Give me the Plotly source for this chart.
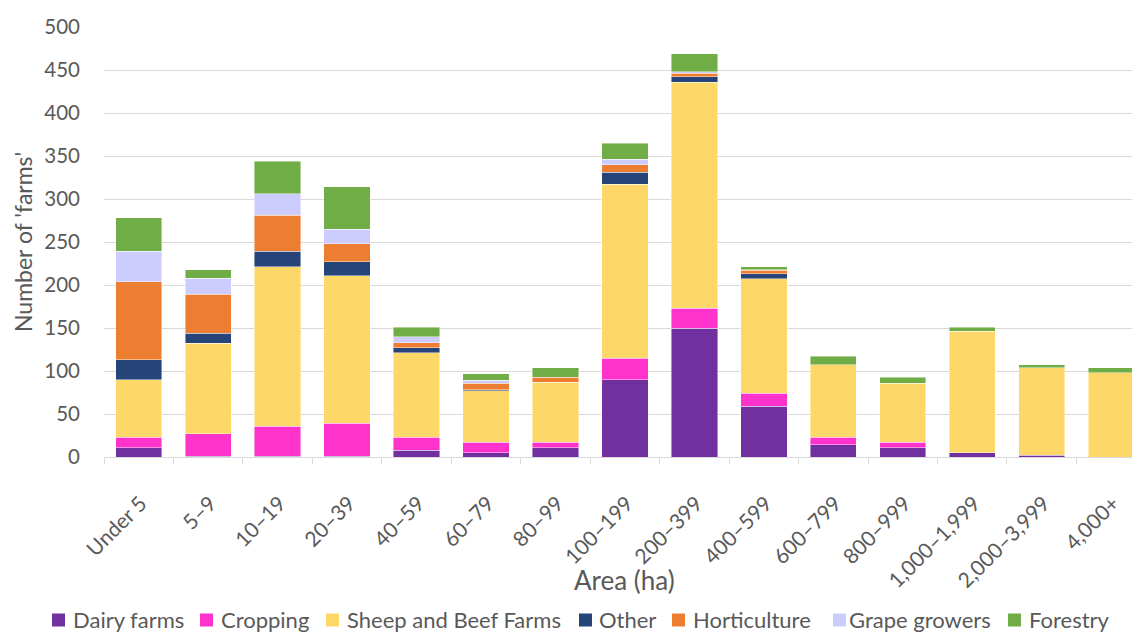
import plotly.graph_objects as go

# Farm size bands (hectares)
categories = ["Under 5", "5–9", "10–19", "20–39", "40–59", "60–79", "80–99",
              "100–199", "200–399", "400–599", "600–799", "800–999",
              "1,000–1,999", "2,000–3,999", "4,000+"]

# Number of farms in each band, by farm type
dairy = [11, 1, 1, 1, 8, 5, 11, 90, 150, 59, 14, 11, 5, 2, 0]
cropping = [12, 26, 35, 38, 15, 12, 6, 25, 23, 15, 9, 6, 0, 0, 0]
sheep_beef = [67, 105, 185, 172, 98, 60, 70, 202, 263, 133, 84, 69, 141, 102, 98]
other = [23, 12, 18, 16, 6, 1, 0, 14, 6, 6, 0, 0, 0, 0, 0]
horticulture = [91, 45, 42, 21, 6, 8, 6, 9, 4, 4, 0, 0, 0, 0, 0]
grape = [35, 19, 25, 17, 7, 3, 0, 6, 2, 1, 0, 0, 0, 0, 0]
forestry = [39, 10, 38, 49, 11, 8, 11, 19, 21, 3, 10, 7, 5, 3, 6]

y_ticks = [0, 50, 100, 150, 200, 250, 300, 350, 400, 450, 500]

series_names = ["Dairy farms", "Cropping", "Sheep and Beef Farms", "Other",
                "Horticulture", "Grape growers", "Forestry"]
series_values = [dairy, cropping, sheep_beef, other, horticulture, grape, forestry]
series_colors = ["#7030A0", "#FF33CC", "#FDD868", "#264478", "#ED7D31", "#CCCCFF", "#70AD47"]

FONT = "Lato, Open Sans, sans-serif"
TEXT = "#595959"

W, H = 1132, 635
M_L, M_R, M_T, M_B = 104, 0, 27, 178
PLOT_W = W - M_L - M_R
PLOT_H = H - M_T - M_B


def px_to_paper_x(px):
    return (px - M_L) / PLOT_W


def px_to_paper_y(py):
    return (H - M_B - py) / PLOT_H


fig = go.Figure()
for name, vals, color in zip(series_names, series_values, series_colors):
    fig.add_trace(go.Bar(
        name=name,
        x=categories,
        y=[v if v else None for v in vals],
        marker=dict(color=color, line=dict(color="rgba(255,255,255,0.55)", width=0.8)),
        showlegend=False,
    ))

fig.update_layout(
    barmode="stack",
    bargap=0.333,
    width=W,
    height=H,
    margin=dict(l=M_L, r=M_R, t=M_T, b=M_B, autoexpand=False),
    paper_bgcolor="white",
    plot_bgcolor="white",
    font=dict(family=FONT, size=20, color=TEXT),
    xaxis=dict(
        range=[-0.5, 14.30],
        automargin=False,
        tickangle=-45,
        tickson="boundaries",
        ticks="outside",
        ticklen=6,
        tickcolor="#D9D9D9",
        showline=True,
        linecolor="#D9D9D9",
        linewidth=1,
        showgrid=False,
        ticklabelstandoff=25,
        ticklabelshift=2,
        tickfont=dict(family=FONT, size=21, color=TEXT),
    ),
    yaxis=dict(
        range=[0, 500],
        automargin=False,
        tickvals=y_ticks,
        showgrid=True,
        gridcolor="#D9D9D9",
        gridwidth=1,
        zeroline=False,
        showline=False,
        ticks="",
        ticklabelstandoff=23,
        tickfont=dict(family=FONT, size=20.5, color=TEXT),
    ),
)

# Axis titles
fig.add_annotation(
    text="Area (ha)", x=7, xref="x", y=px_to_paper_y(580), yref="paper",
    showarrow=False, xanchor="center", yanchor="middle",
    font=dict(family=FONT, size=26, color=TEXT),
)
fig.add_annotation(
    text="Number of 'farms'", x=px_to_paper_x(23), xref="paper",
    y=0.5, yref="paper", textangle=-90,
    showarrow=False, xanchor="center", yanchor="middle",
    font=dict(family=FONT, size=23, color=TEXT),
)

# Legend row beneath the chart: colour square followed by its label
legend_square_px = [52, 200, 326, 579, 672, 833, 1008]
legend_text_px = [71, 219, 345, 597, 691, 847, 1027]
SQ = 13
LEG_Y = 619
for name, color, sq_x, tx_x in zip(series_names, series_colors, legend_square_px, legend_text_px):
    fig.add_shape(
        type="rect", xref="paper", yref="paper",
        x0=px_to_paper_x(sq_x), x1=px_to_paper_x(sq_x + SQ),
        y0=px_to_paper_y(LEG_Y + 1 + SQ / 2), y1=px_to_paper_y(LEG_Y + 1 - SQ / 2),
        fillcolor=color, line=dict(width=0), layer="above",
    )
    fig.add_annotation(
        text=name, x=px_to_paper_x(tx_x), xref="paper",
        y=px_to_paper_y(LEG_Y), yref="paper",
        showarrow=False, xanchor="left", yanchor="middle",
        font=dict(family=FONT, size=22, color=TEXT),
    )

fig.write_html("out.html")
